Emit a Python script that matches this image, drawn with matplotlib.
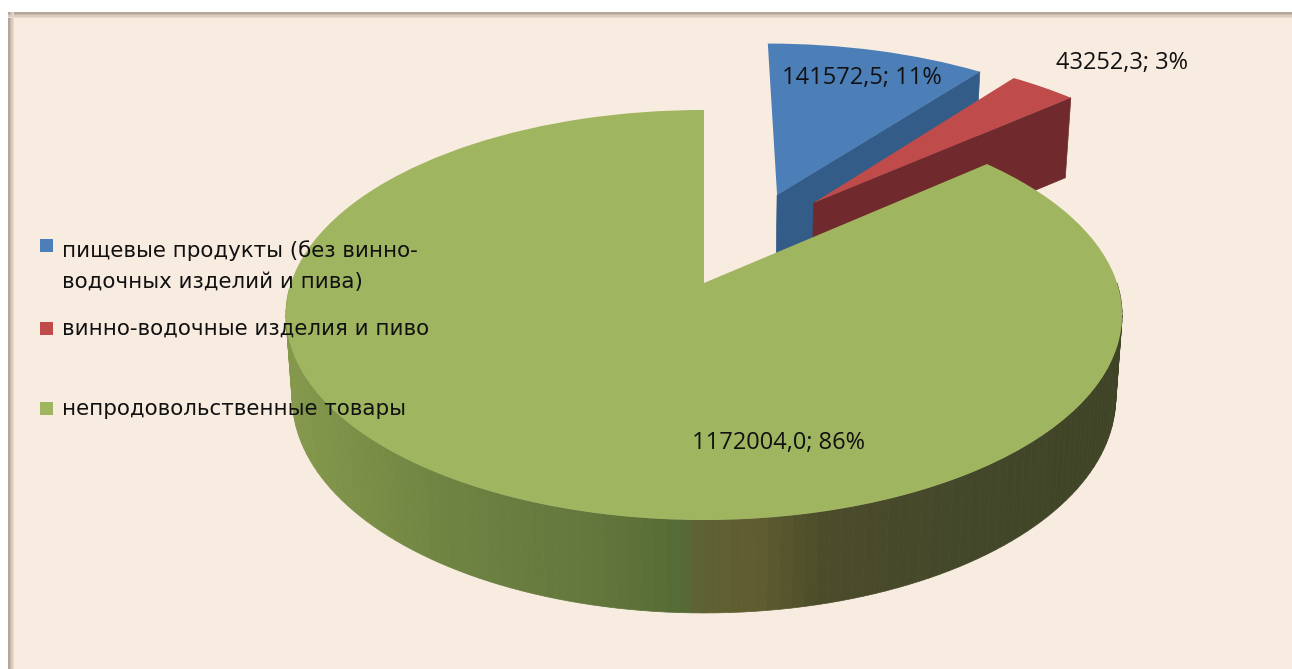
import numpy as np
import matplotlib
matplotlib.use("Agg")
import matplotlib.pyplot as plt
from matplotlib.colors import to_rgb
from matplotlib.patches import Rectangle
from matplotlib.transforms import Transform

# values
categories = ["пищевые продукты (без винно-\nводочных изделий и пива)",
              "винно-водочные изделия и пиво",
              "непродовольственные товары"]
values = [141572.5, 43252.3, 1172004.0]
data_labels = ["141572,5; 11%", "43252,3; 3%", "1172004,0; 86%"]

# look of the slices
top_colors = ["#4c7fb8", "#bf4b4a", "#a0b560"]
face_colors = ["#345c88", "#702a2e", "#5c6b38"]
offsets = [(0.19, 0.472), (0.283, 0.427), (0.0, 0.0)]

# pixel geometry of the tilted pie
cx, cy = 704, 283
R = 413
tilt = 200
k = 0.156


def project(X, Y):
    den = 1 + k * Y
    return cx + R * X / den, cy - tilt * Y / den


def drop(X, Y):
    # same point on the lower rim of the pie
    px, py = project(X, Y)
    h = 80 - 13 * np.minimum(Y, 0)
    return cx + (px - cx) * 0.985, py + h


class TiltTransform(Transform):
    input_dims = 2
    output_dims = 2
    is_separable = False

    def transform_non_affine(self, values):
        xy = np.asarray(values)
        px, py = project(xy[:, 0], xy[:, 1])
        return np.column_stack([px, py])


fig = plt.figure(figsize=(12.92, 6.69), dpi=100, facecolor="white")
ax = fig.add_axes([0, 0, 1, 1])
wedges, _ = ax.pie(values, startangle=90, counterclock=False, colors=top_colors,
                   wedgeprops={"linewidth": 0})
ax.set_aspect("auto")
ax.set_xlim(0, 1292)
ax.set_ylim(669, 0)
ax.axis("off")

# background with the soft shadow on top and left
ax.add_patch(Rectangle((8, 12), 1284, 657, fc="#f8ebe0", ec="none", zorder=0))
for i, c in enumerate(["#b5a69a", "#c6b7aa", "#dacbbf", "#eadbd0"]):
    ax.add_patch(Rectangle((8, 12 + i * 1.5), 1284, 1.5, fc=c, ec="none", zorder=0.5))
    ax.add_patch(Rectangle((8 + i * 1.5, 12), 1.5, 657, fc=c, ec="none", zorder=0.5))

# side of the green part goes from olive on the left to dark on the right
stop_x = [285, 442, 605, 680, 700, 760, 822, 985, 1120]
stop_c = np.array([to_rgb(c) for c in ["#85994c", "#6f8442", "#62753c", "#556b35", "#5f6233",
                                       "#5f5c30", "#4b4c2a", "#43472a", "#3f4427"]])

tilt_tr = TiltTransform() + ax.transData
for i, w in enumerate(wedges):
    w.set_center(offsets[i])
    w.set_transform(tilt_tr)
    w.set_zorder(3 + 2 * i)

    ox, oy = offsets[i]
    z = 2 + 2 * i

    # only the front of the green part shows its rim
    if i == 2:
        ang = np.radians(np.arange(w.theta1, w.theta2 + 1.5, 1.5))
        ang = ang[np.sin(ang) < 0.0]
        for a0, a1 in zip(ang[:-1], ang[1:]):
            xs = ox + np.cos([a0, a1])
            ys = oy + np.sin([a0, a1])
            tx, ty = project(xs, ys)
            bx, by = drop(xs, ys)
            col = [np.interp(tx.mean(), stop_x, stop_c[:, j]) for j in range(3)]
            ax.fill([tx[0], tx[1], bx[1], bx[0]], [ty[0], ty[1], by[1], by[0]],
                    fc=col, ec=col, lw=0.5, zorder=z)

    # cut face of the pulled out slices
    else:
        a = np.radians(w.theta1)
        xs = np.array([ox, ox + np.cos(a)])
        ys = np.array([oy, oy + np.sin(a)])
        tx, ty = project(xs, ys)
        bx, by = drop(xs, ys)
        ax.fill([tx[0], tx[1], bx[1], bx[0]], [ty[0], ty[1], by[1], by[0]],
                fc=face_colors[i], ec=face_colors[i], lw=0.5, zorder=z + 0.5)

# data labels
label_pos = [(782, 78), (1056, 63), (692, 443)]
for txt, (x, y) in zip(data_labels, label_pos):
    ax.text(x, y, txt, fontsize=17, family="Open Sans", color="#111111",
            va="center", ha="left", zorder=10)

# legend
legend_y = [245, 328, 408]
legend_text_y = [266, 329, 409]
for name, c, y, ty in zip(categories, top_colors, legend_y, legend_text_y):
    ax.add_patch(Rectangle((40, y - 6), 13, 13, fc=c, ec="none", zorder=10))
    ax.text(62, ty, name, fontsize=15.4, family="DejaVu Sans", color="#111111",
            va="center", ha="left", linespacing=1.7, zorder=10)

fig.savefig("out.png", dpi=100)
